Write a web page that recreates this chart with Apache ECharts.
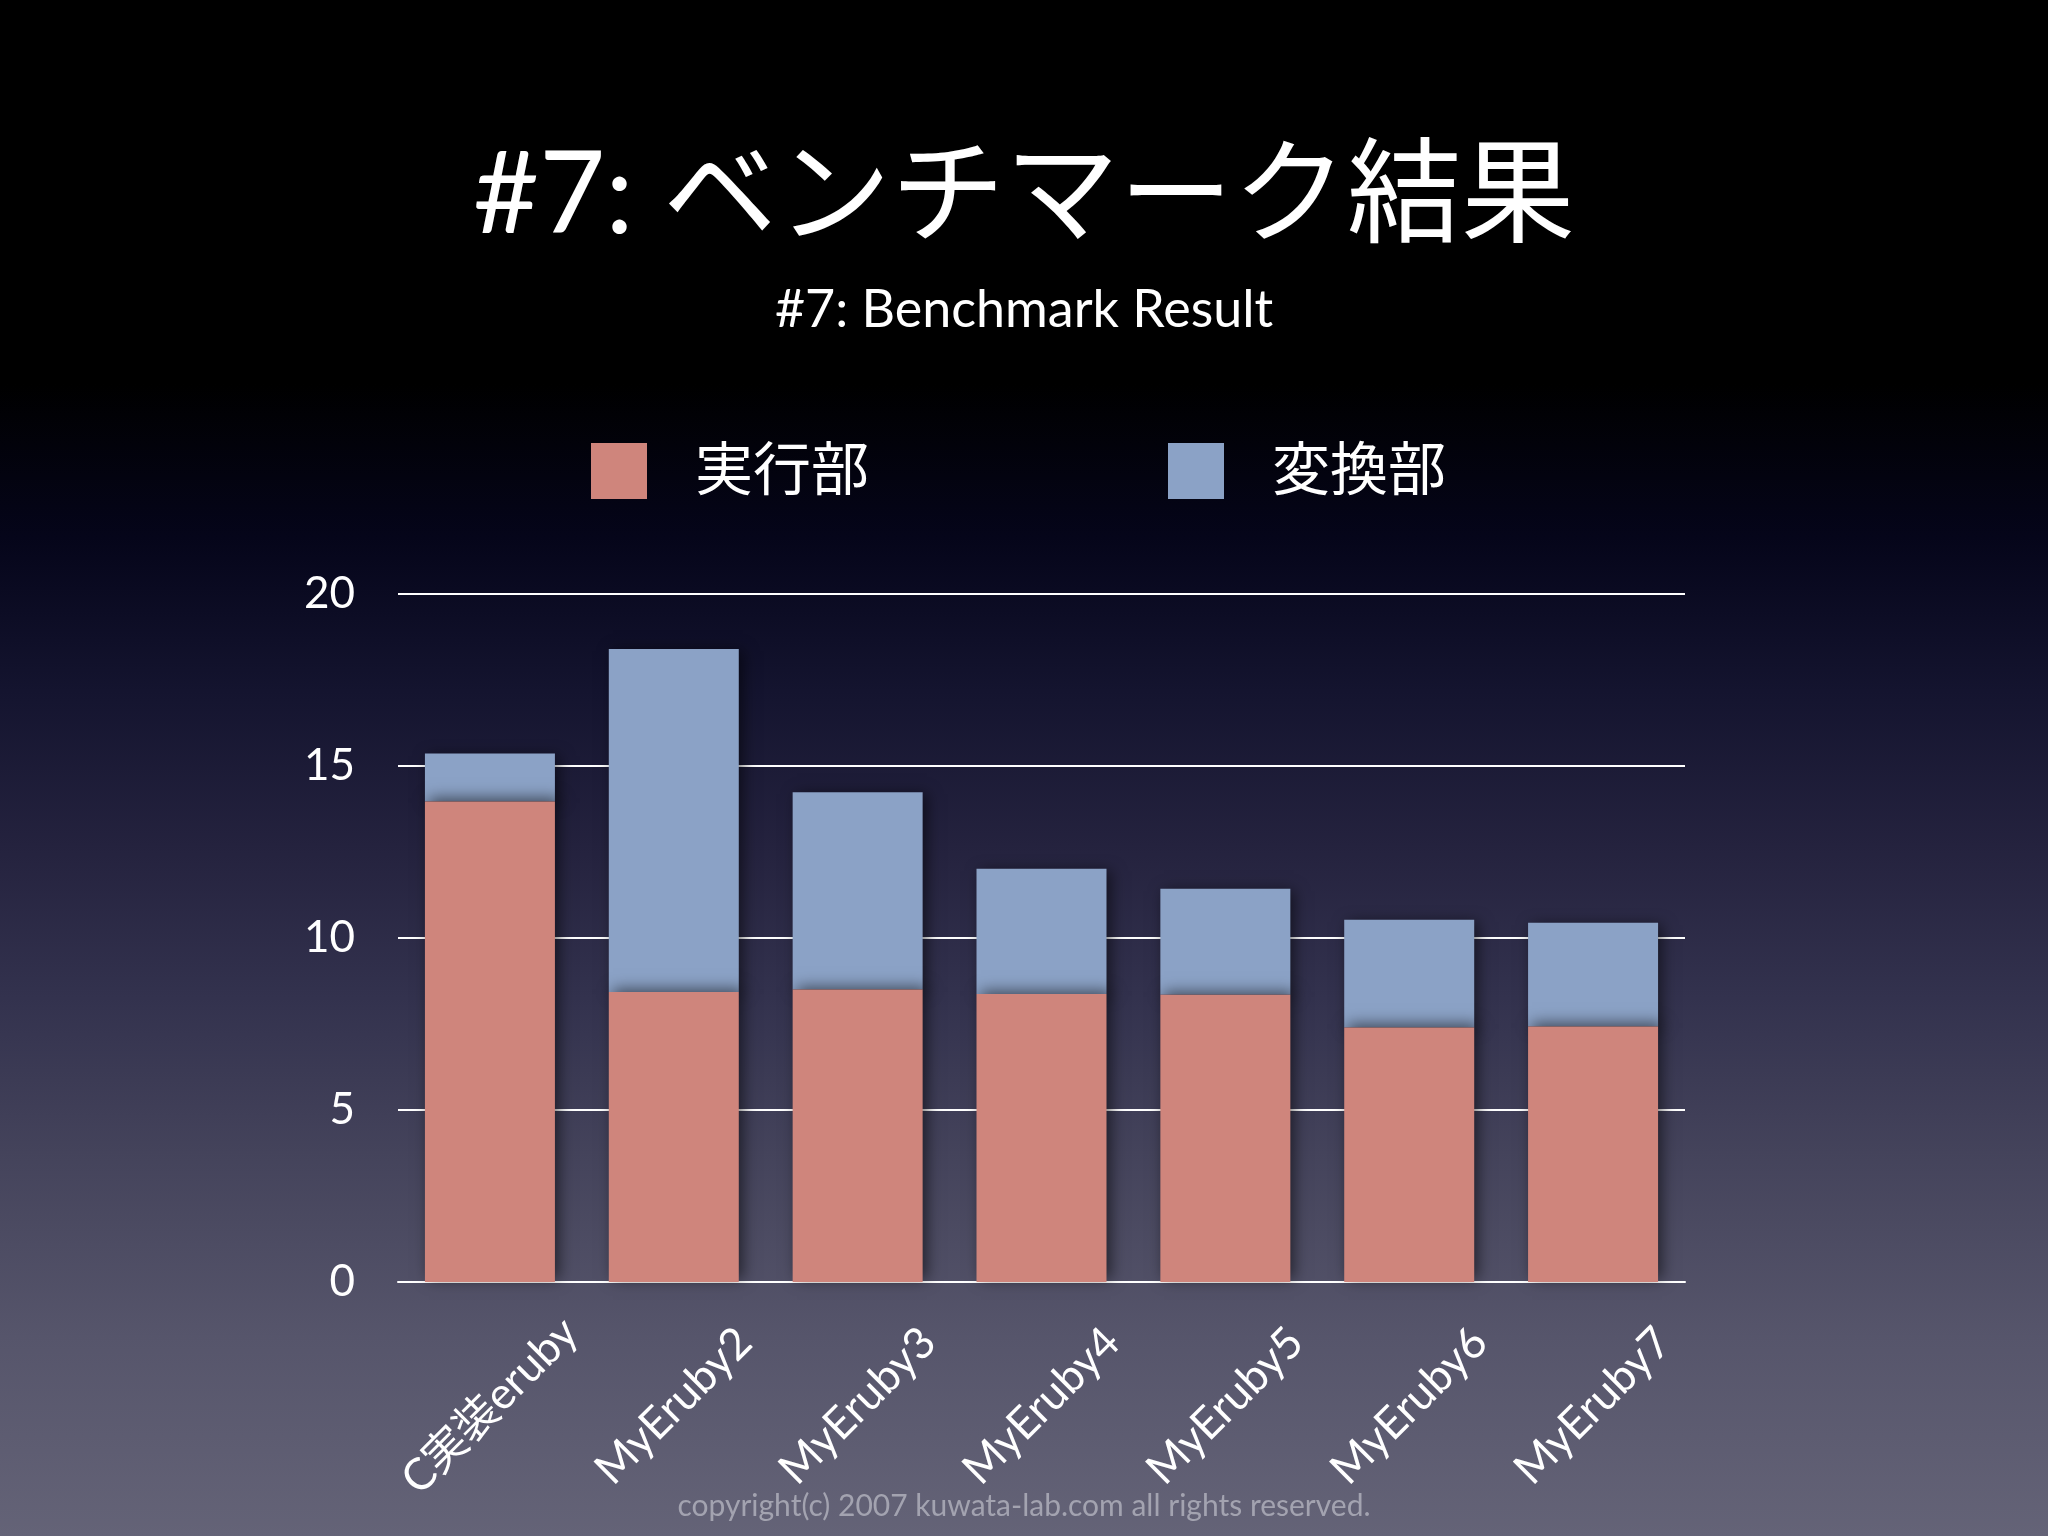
<!DOCTYPE html>
<html>
<head>
<meta charset="utf-8">
<title>#7: ベンチマーク結果</title>
<script src="https://cdn.jsdelivr.net/npm/echarts@6/dist/echarts.min.js"></script>
<style>
  html, body { margin: 0; padding: 0; background: #000; }
  #chart { width: 2048px; height: 1536px; }
</style>
</head>
<body>
<div id="chart"></div>
<script>
// ベンチマーク結果（秒）
var categories = ['C実装eruby', 'MyEruby2', 'MyEruby3', 'MyEruby4', 'MyEruby5', 'MyEruby6', 'MyEruby7'];
var execPart = [13.97, 8.43, 8.50, 8.37, 8.35, 7.40, 7.43];     // 実行部
var convertPart = [1.39, 9.97, 5.74, 3.64, 3.08, 3.13, 3.01];  // 変換部
var seriesNames = ['実行部', '変換部'];
var yTicks = [0, 5, 10, 15, 20];

var FONT = 'Lato, "Noto Sans CJK JP", sans-serif';
var myChart = echarts.init(document.getElementById('chart'));

myChart.setOption({
    backgroundColor: new echarts.graphic.LinearGradient(0, 0, 0, 1, [
        {offset: 0, color: '#000000'},
        {offset: 0.25, color: '#000000'},
        {offset: 0.35, color: '#05051a'},
        {offset: 0.45, color: '#14142f'},
        {offset: 0.55, color: '#24223e'},
        {offset: 0.65, color: '#33324e'},
        {offset: 0.75, color: '#44435b'},
        {offset: 0.87, color: '#56556b'},
        {offset: 1, color: '#646377'}
    ]),
    color: ['#cf857c', '#8ba2c6'],
    title: [
        {
            text: '#7: ベンチマーク結果',
            left: 'center',
            top: 134,
            textStyle: {color: '#ffffff', fontSize: 114, fontWeight: 'normal', fontFamily: FONT}
        },
        {
            text: '#7: Benchmark Result',
            left: 'center',
            top: 279,
            textStyle: {color: '#ffffff', fontSize: 52, fontWeight: 'normal', fontFamily: FONT}
        },
        {
            text: 'copyright(c) 2007 kuwata-lab.com all rights reserved.',
            left: 'center',
            top: 1486,
            textStyle: {color: '#a3a3b0', fontSize: 30, fontWeight: 'normal', fontFamily: FONT}
        }
    ],
    legend: {
        data: seriesNames,
        left: 591,
        top: 442,
        padding: 0,
        icon: 'rect',
        itemWidth: 56,
        itemHeight: 56,
        itemGap: 299,
        textStyle: {color: '#ffffff', fontSize: 58, fontFamily: FONT, padding: [0, 0, 0, 43]}
    },
    grid: {
        left: 398,
        right: 363,
        top: 594,
        bottom: 254
    },
    xAxis: {
        type: 'category',
        data: categories,
        axisTick: {show: false},
        axisLine: {show: true, lineStyle: {color: '#ffffff', width: 2}},
        axisLabel: {
            rotate: 45,
            align: 'center',
            verticalAlign: 'middle',
            margin: 124,
            color: '#ffffff',
            fontSize: 44,
            fontFamily: FONT
        }
    },
    yAxis: {
        type: 'value',
        min: yTicks[0],
        max: yTicks[yTicks.length - 1],
        interval: 5,
        axisLine: {show: false},
        axisTick: {show: false},
        splitLine: {lineStyle: {color: '#ffffff', width: 2}},
        axisLabel: {
            margin: 43,
            color: '#ffffff',
            fontSize: 44,
            fontFamily: FONT
        }
    },
    series: [
        {
            name: seriesNames[0],
            type: 'bar',
            stack: 'total',
            barWidth: 130,
            z: 3,
            data: execPart,
            itemStyle: {
                color: '#cf857c',
                shadowBlur: 14,
                shadowColor: 'rgba(0,0,0,0.55)',
                shadowOffsetX: 4,
                shadowOffsetY: -3
            }
        },
        {
            name: seriesNames[1],
            type: 'bar',
            stack: 'total',
            barWidth: 130,
            z: 2,
            data: convertPart,
            itemStyle: {
                color: '#8ba2c6',
                shadowBlur: 14,
                shadowColor: 'rgba(0,0,0,0.55)',
                shadowOffsetX: 4,
                shadowOffsetY: 2
            }
        }
    ]
});
</script>
</body>
</html>
